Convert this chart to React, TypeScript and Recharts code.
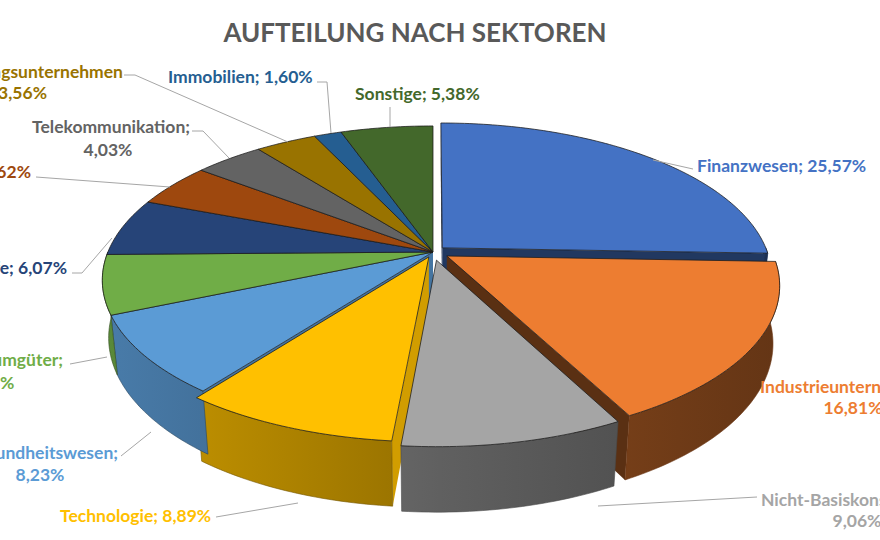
import React from "react";
import { PieChart, Pie } from "recharts";

const sectors = [
  "Finanzwesen",
  "Industrieunternehmen",
  "Nicht-Basiskonsumgüter",
  "Technologie",
  "Gesundheitswesen",
  "Basiskonsumgüter",
  "Rohstoffe",
  "Energie",
  "Telekommunikation",
  "Versorgungsunternehmen",
  "Immobilien",
  "Sonstige",
];

const shares = [25.57, 16.81, 9.06, 8.89, 8.23, 6.18, 6.07, 4.62, 4.03, 3.56, 1.6, 5.38];

const colors = [
  "#4472C4",
  "#ED7D31",
  "#A5A5A5",
  "#FFC000",
  "#5B9BD5",
  "#70AD47",
  "#264478",
  "#9E480E",
  "#636363",
  "#997300",
  "#255E91",
  "#43682B",
];

const data = sectors.map((name, i) => ({ name, value: shares[i] }));

// 3D view of the pie (unit radius, perspective camera)
const CX = 433;
const CY = 252;
const PHI = (27.3 * Math.PI) / 180;
const CAM = 4.86;
const FOCAL = 1580;
const THICK = 0.2;
const explode = [0.04, 0.05, 0.055, 0.035, 0, 0, 0, 0, 0, 0, 0, 0];

const FONT = "Lato, 'Open Sans', sans-serif";

type LinePos = { x: number; y: number; anchor: "start" | "middle" | "end" };
const labelLayout: { wrap: "one" | "two" | "split"; pos: LinePos[]; leader: number[][] }[] = [
  { wrap: "one", pos: [{ x: 697, y: 172, anchor: "start" }], leader: [[653, 160], [693, 169]] },
  { wrap: "two", pos: [{ x: 760, y: 393, anchor: "start" }, { x: 853, y: 414, anchor: "middle" }], leader: [] },
  { wrap: "two", pos: [{ x: 761, y: 506, anchor: "start" }, { x: 857, y: 527, anchor: "middle" }], leader: [[598, 506], [757, 497]] },
  { wrap: "one", pos: [{ x: 60, y: 522, anchor: "start" }], leader: [[216, 517], [298, 503]] },
  { wrap: "two", pos: [{ x: 118, y: 459, anchor: "end" }, { x: 40, y: 481, anchor: "middle" }], leader: [[121, 456], [151, 432]] },
  { wrap: "two", pos: [{ x: 63, y: 366, anchor: "end" }, { x: -10, y: 389, anchor: "middle" }], leader: [[70, 364], [107, 357]] },
  { wrap: "one", pos: [{ x: 67, y: 274, anchor: "end" }], leader: [[72, 273], [82, 273], [112, 238]] },
  { wrap: "one", pos: [{ x: 31, y: 178, anchor: "end" }], leader: [[36, 177], [170, 187]] },
  { wrap: "two", pos: [{ x: 190, y: 133, anchor: "end" }, { x: 108, y: 156, anchor: "middle" }], leader: [[192, 131], [203, 131], [229, 158]] },
  { wrap: "split", pos: [{ x: 123, y: 78, anchor: "end" }, { x: 47, y: 99, anchor: "end" }], leader: [[124, 75], [135, 75], [288, 142]] },
  { wrap: "one", pos: [{ x: 168, y: 83, anchor: "start" }], leader: [[317, 82], [327, 82], [331, 133]] },
  { wrap: "one", pos: [{ x: 355, y: 100, anchor: "start" }], leader: [[390, 107], [390, 127]] },
];

const rad = (d: number) => (d * Math.PI) / 180;

// world: X right, Y toward viewer, Z up
const proj = (X: number, Y: number, Z: number) => {
  const depth = CAM - (Y * Math.cos(PHI) + Z * Math.sin(PHI));
  return [CX + (FOCAL * X) / depth, CY + (FOCAL * (Y * Math.sin(PHI) - Z * Math.cos(PHI))) / depth];
};

const shade = (hex: string, f: number) => {
  const n = parseInt(hex.slice(1), 16);
  const r = Math.round(((n >> 16) & 255) * f);
  const g = Math.round(((n >> 8) & 255) * f);
  const b = Math.round((n & 255) * f);
  return `rgb(${r},${g},${b})`;
};

const fmt = (v: number) => v.toFixed(2).replace(".", ",") + "%";

const sliceBase = (p: any) => {
  const i = sectors.indexOf(p.payload?.name ?? p.name);
  const e = explode[i] ?? 0;
  const ox = e * Math.cos(rad(p.midAngle));
  const oy = -e * Math.sin(rad(p.midAngle));
  const hi = Math.max(p.startAngle, p.endAngle);
  const lo = Math.min(p.startAngle, p.endAngle);
  const rim = (a: number, z: number) => proj(Math.cos(rad(a)) + ox, -Math.sin(rad(a)) + oy, z);
  const apex = (z: number) => proj(ox, oy, z);
  return { i, hi, lo, rim, apex, ox, oy };
};

const arcPts = (rim: (a: number, z: number) => number[], from: number, to: number, z: number) => {
  const n = Math.max(2, Math.ceil(Math.abs(from - to)));
  const pts: number[][] = [];
  for (let k = 0; k <= n; k++) pts.push(rim(from + ((to - from) * k) / n, z));
  return pts;
};

const toPath = (pts: number[][]) =>
  "M" + pts.map((q) => `${q[0].toFixed(2)},${q[1].toFixed(2)}`).join(" L") + " Z";

// radial cut faces where a slice is pulled out; pulled-out slices painted last
const makeCutFaces = (pulled: boolean) => (p: any) => {
  const { i, hi, lo, rim, apex, ox, oy } = sliceBase(p);
  if (Boolean(explode[i]) !== pulled) return <g />;
  const n = sectors.length;
  const edges: { a: number; nAng: number }[] = [];
  if (explode[i] || explode[(i + n - 1) % n]) edges.push({ a: hi, nAng: hi + 90 });
  if (explode[i] || explode[(i + 1) % n]) edges.push({ a: lo, nAng: lo - 90 });
  return (
    <g>
      {edges.map(({ a, nAng }, k) => {
        const nx = Math.cos(rad(nAng));
        const ny = -Math.sin(rad(nAng));
        const px = ox + 0.5 * Math.cos(rad(a));
        const py = oy - 0.5 * Math.sin(rad(a));
        const facing = nx * -px + ny * (CAM * Math.cos(PHI) - py);
        if (facing <= 0) return null;
        const f = Math.max(0.38, 0.5 + 0.32 * nx);
        return (
          <path
            key={k}
            d={toPath([apex(0), rim(a, 0), rim(a, -THICK), apex(-THICK)])}
            fill={shade(colors[i], f)}
          />
        );
      })}
    </g>
  );
};

const OuterWall = (p: any) => {
  const { i, hi, lo, rim } = sliceBase(p);
  const wHi = Math.min(hi, 0);
  const wLo = Math.max(lo, -180);
  if (wHi <= wLo) return <g />;
  const pts = [...arcPts(rim, wHi, wLo, 0), ...arcPts(rim, wLo, wHi, -THICK)];
  const c = colors[i];
  return (
    <g>
      <defs>
        <linearGradient id={`wall-${i}`} gradientUnits="userSpaceOnUse" x1={100} y1={0} x2={780} y2={0}>
          <stop offset="0%" stopColor={shade(c, 0.8)} />
          <stop offset="50%" stopColor={shade(c, 0.58)} />
          <stop offset="100%" stopColor={shade(c, 0.42)} />
        </linearGradient>
      </defs>
      <path d={toPath(pts)} fill={`url(#wall-${i})`} stroke={shade(c, 0.45)} strokeWidth={0.6} />
    </g>
  );
};

const TopFace = (p: any) => {
  const { i, hi, lo, rim, apex } = sliceBase(p);
  const pts = [apex(0), ...arcPts(rim, hi, lo, 0)];
  return (
    <path
      d={toPath(pts)}
      fill={colors[i]}
      stroke="rgba(25,25,25,0.75)"
      strokeWidth={1}
      strokeLinejoin="round"
    />
  );
};

const renderLabel = (p: any) => {
  const i = p.index;
  const lay = labelLayout[i];
  const name = sectors[i];
  const pct = fmt(shares[i]);
  const lines =
    lay.wrap === "one" ? [`${name}; ${pct}`] : lay.wrap === "two" ? [`${name};`, pct] : [name, `; ${pct}`];
  return (
    <g key={`lbl-${i}`}>
      {lay.leader.length > 0 && (
        <polyline
          points={lay.leader.map((pt) => pt.join(",")).join(" ")}
          fill="none"
          stroke="#A6A6A6"
          strokeWidth={1}
        />
      )}
      {lines.map((t, k) => (
        <text
          key={k}
          x={lay.pos[k].x}
          y={lay.pos[k].y}
          textAnchor={lay.pos[k].anchor}
          fill={colors[i]}
          fontFamily={FONT}
          fontWeight={700}
          fontSize={17.5}
        >
          {t}
        </text>
      ))}
    </g>
  );
};

const pieProps = {
  data,
  dataKey: "value",
  nameKey: "name",
  cx: CX,
  cy: CY,
  outerRadius: 330,
  startAngle: 90,
  endAngle: -270,
  labelLine: false,
  isAnimationActive: false,
};

export default function App() {
  return (
    <div style={{ position: "absolute", left: 0, top: 0, width: 880, height: 540, background: "#fff", overflow: "hidden" }}>
      <div
        style={{
          position: "absolute",
          left: 0,
          top: 16,
          width: 830,
          textAlign: "center",
          fontFamily: FONT,
          fontWeight: 700,
          fontSize: 26,
          lineHeight: "32px",
          color: "#595959",
        }}
      >
        AUFTEILUNG NACH SEKTOREN
      </div>
      <PieChart width={880} height={540} margin={{ top: 0, right: 0, bottom: 0, left: 0 }}>
        <Pie {...pieProps} shape={makeCutFaces(false)} label={false} isAnimationActive={false} />
        <Pie {...pieProps} shape={makeCutFaces(true)} label={false} isAnimationActive={false} />
        <Pie {...pieProps} shape={OuterWall} label={false} isAnimationActive={false} />
        <Pie {...pieProps} shape={TopFace} label={renderLabel} isAnimationActive={false} />
      </PieChart>
    </div>
  );
}
